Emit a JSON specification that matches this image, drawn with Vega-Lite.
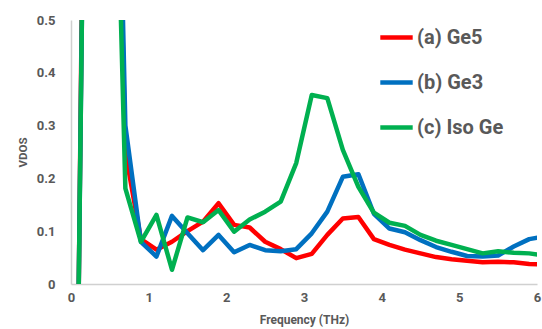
{
  "$schema": "https://vega.github.io/schema/vega-lite/v6.json",
  "autosize": {"type": "none"},
  "width": 466,
  "height": 264,
  "padding": {"left": 71, "top": 20, "right": 5, "bottom": 45},
  "background": "white",
  "config": {"view": {"stroke": null}, "font": "Roboto"},
  "data": {"values": [
    {"f":0.1,"v":0,"s":"(a) Ge5"},{"f":0.3,"v":2.7,"s":"(a) Ge5"},{"f":0.5,"v":1.5,"s":"(a) Ge5"},{"f":0.7,"v":0.25,"s":"(a) Ge5"},{"f":0.9,"v":0.085,"s":"(a) Ge5"},{"f":1.1,"v":0.065,"s":"(a) Ge5"},{"f":1.3,"v":0.08,"s":"(a) Ge5"},{"f":1.5,"v":0.1,"s":"(a) Ge5"},{"f":1.7,"v":0.118,"s":"(a) Ge5"},{"f":1.9,"v":0.153,"s":"(a) Ge5"},{"f":2.1,"v":0.112,"s":"(a) Ge5"},{"f":2.3,"v":0.107,"s":"(a) Ge5"},{"f":2.5,"v":0.08,"s":"(a) Ge5"},{"f":2.7,"v":0.066,"s":"(a) Ge5"},{"f":2.9,"v":0.049,"s":"(a) Ge5"},{"f":3.1,"v":0.057,"s":"(a) Ge5"},{"f":3.3,"v":0.093,"s":"(a) Ge5"},{"f":3.5,"v":0.124,"s":"(a) Ge5"},{"f":3.7,"v":0.127,"s":"(a) Ge5"},{"f":3.9,"v":0.085,"s":"(a) Ge5"},{"f":4.1,"v":0.074,"s":"(a) Ge5"},{"f":4.3,"v":0.065,"s":"(a) Ge5"},{"f":4.5,"v":0.058,"s":"(a) Ge5"},{"f":4.7,"v":0.051,"s":"(a) Ge5"},{"f":4.9,"v":0.047,"s":"(a) Ge5"},{"f":5.1,"v":0.044,"s":"(a) Ge5"},{"f":5.3,"v":0.041,"s":"(a) Ge5"},{"f":5.5,"v":0.042,"s":"(a) Ge5"},{"f":5.7,"v":0.041,"s":"(a) Ge5"},{"f":5.9,"v":0.038,"s":"(a) Ge5"},{"f":6.1,"v":0.037,"s":"(a) Ge5"},
    {"f":0.1,"v":0,"s":"(b) Ge3"},{"f":0.3,"v":2.5,"s":"(b) Ge3"},{"f":0.5,"v":1.6,"s":"(b) Ge3"},{"f":0.7,"v":0.3,"s":"(b) Ge3"},{"f":0.9,"v":0.08,"s":"(b) Ge3"},{"f":1.1,"v":0.052,"s":"(b) Ge3"},{"f":1.3,"v":0.129,"s":"(b) Ge3"},{"f":1.5,"v":0.096,"s":"(b) Ge3"},{"f":1.7,"v":0.064,"s":"(b) Ge3"},{"f":1.9,"v":0.093,"s":"(b) Ge3"},{"f":2.1,"v":0.06,"s":"(b) Ge3"},{"f":2.3,"v":0.074,"s":"(b) Ge3"},{"f":2.5,"v":0.064,"s":"(b) Ge3"},{"f":2.7,"v":0.062,"s":"(b) Ge3"},{"f":2.9,"v":0.066,"s":"(b) Ge3"},{"f":3.1,"v":0.096,"s":"(b) Ge3"},{"f":3.3,"v":0.137,"s":"(b) Ge3"},{"f":3.5,"v":0.203,"s":"(b) Ge3"},{"f":3.7,"v":0.208,"s":"(b) Ge3"},{"f":3.9,"v":0.133,"s":"(b) Ge3"},{"f":4.1,"v":0.105,"s":"(b) Ge3"},{"f":4.3,"v":0.098,"s":"(b) Ge3"},{"f":4.5,"v":0.083,"s":"(b) Ge3"},{"f":4.7,"v":0.07,"s":"(b) Ge3"},{"f":4.9,"v":0.061,"s":"(b) Ge3"},{"f":5.1,"v":0.053,"s":"(b) Ge3"},{"f":5.3,"v":0.052,"s":"(b) Ge3"},{"f":5.5,"v":0.054,"s":"(b) Ge3"},{"f":5.7,"v":0.071,"s":"(b) Ge3"},{"f":5.9,"v":0.085,"s":"(b) Ge3"},{"f":6.1,"v":0.09,"s":"(b) Ge3"},
    {"f":0.1,"v":0,"s":"(c) Iso Ge"},{"f":0.3,"v":2.5,"s":"(c) Iso Ge"},{"f":0.5,"v":1.3,"s":"(c) Iso Ge"},{"f":0.7,"v":0.181,"s":"(c) Iso Ge"},{"f":0.9,"v":0.08,"s":"(c) Iso Ge"},{"f":1.1,"v":0.131,"s":"(c) Iso Ge"},{"f":1.3,"v":0.027,"s":"(c) Iso Ge"},{"f":1.5,"v":0.126,"s":"(c) Iso Ge"},{"f":1.7,"v":0.117,"s":"(c) Iso Ge"},{"f":1.9,"v":0.14,"s":"(c) Iso Ge"},{"f":2.1,"v":0.099,"s":"(c) Iso Ge"},{"f":2.3,"v":0.122,"s":"(c) Iso Ge"},{"f":2.5,"v":0.137,"s":"(c) Iso Ge"},{"f":2.7,"v":0.156,"s":"(c) Iso Ge"},{"f":2.9,"v":0.229,"s":"(c) Iso Ge"},{"f":3.1,"v":0.358,"s":"(c) Iso Ge"},{"f":3.3,"v":0.352,"s":"(c) Iso Ge"},{"f":3.5,"v":0.254,"s":"(c) Iso Ge"},{"f":3.7,"v":0.184,"s":"(c) Iso Ge"},{"f":3.9,"v":0.135,"s":"(c) Iso Ge"},{"f":4.1,"v":0.116,"s":"(c) Iso Ge"},{"f":4.3,"v":0.11,"s":"(c) Iso Ge"},{"f":4.5,"v":0.093,"s":"(c) Iso Ge"},{"f":4.7,"v":0.082,"s":"(c) Iso Ge"},{"f":4.9,"v":0.074,"s":"(c) Iso Ge"},{"f":5.1,"v":0.066,"s":"(c) Iso Ge"},{"f":5.3,"v":0.058,"s":"(c) Iso Ge"},{"f":5.5,"v":0.062,"s":"(c) Iso Ge"},{"f":5.7,"v":0.059,"s":"(c) Iso Ge"},{"f":5.9,"v":0.058,"s":"(c) Iso Ge"},{"f":6.1,"v":0.054,"s":"(c) Iso Ge"}
  ]},
  "mark": {"type": "line", "strokeWidth": 4.5, "clip": true, "strokeJoin": "round"},
  "encoding": {
    "x": {"field": "f", "type": "quantitative", "scale": {"domain": [0, 6], "nice": false},
      "axis": {"values": [0,1,2,3,4,5,6], "grid": false, "ticks": false, "domainColor": "#D0D0D0", "domainWidth": 1.5,
        "labelFlush": false, "labelFontSize": 13, "labelFontWeight": "bold", "labelColor": "#595959", "labelPadding": 7,
        "title": "Frequency (THz)", "titleFontSize": 12, "titleFontWeight": "bold", "titleColor": "#595959", "titlePadding": 10}},
    "y": {"field": "v", "type": "quantitative", "scale": {"domain": [0, 0.5], "nice": false},
      "axis": {"values": [0,0.1,0.2,0.3,0.4,0.5], "grid": false, "ticks": false, "domainColor": "#D0D0D0", "domainWidth": 1.5,
        "labelFlush": false, "labelExpr": "datum.value == 0 ? '0' : format(datum.value, '.1f')",
        "labelFontSize": 13, "labelFontWeight": "bold", "labelColor": "#595959", "labelPadding": 16,
        "title": "VDOS", "titleFontSize": 11.5, "titleFontWeight": "bold", "titleColor": "#595959", "titlePadding": 8}},
    "color": {"field": "s", "type": "nominal",
      "scale": {"domain": ["(a) Ge5", "(b) Ge3", "(c) Iso Ge"], "range": ["#FF0000", "#0070C0", "#00B050"]},
      "legend": {"title": null, "orient": "none", "legendX": 307, "legendY": -1,
        "symbolType": "stroke", "symbolSize": 1050, "symbolStrokeWidth": 4.5,
        "labelFontSize": 20, "labelFontWeight": "bold", "labelColor": "#595959", "labelOffset": 2,
        "rowPadding": 16, "labelLimit": 300}}
  }
}
